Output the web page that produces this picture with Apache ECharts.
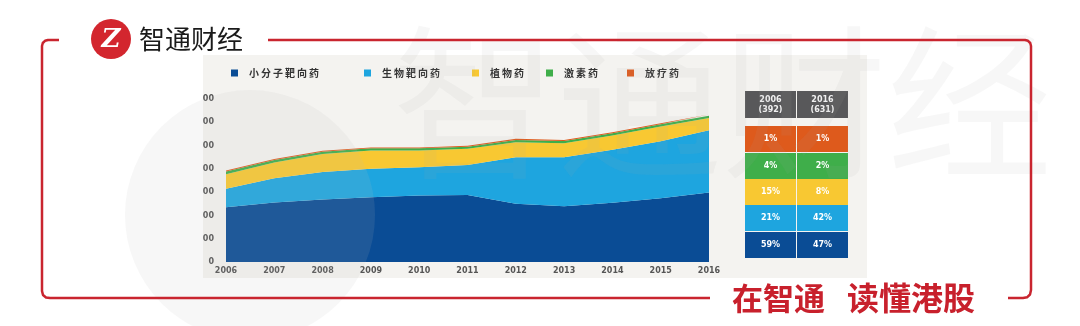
<!DOCTYPE html>
<html><head><meta charset="utf-8">
<script src="https://cdn.jsdelivr.net/npm/echarts@6/dist/echarts.min.js"></script>
<style>html,body{margin:0;padding:0;background:#fff}#c{width:1080px;height:326px}</style>
</head><body><div id="c"></div>
<script>
const years = ['2006','2007','2008','2009','2010','2011','2012','2013','2014','2015','2016'];
const seriesNames = ['小分子靶向药','生物靶向药','植物药','激素药','放疗药'];
const smallMolecule = [235, 255, 268, 278, 286, 288, 250, 239, 254, 274, 298];
const biologic      = [ 80, 105, 118, 122, 121, 129, 200, 211, 228, 245, 268];
const herbal        = [ 62,  67,  78,  79,  72,  69,  64,  60,  61,  63,  52];
const hormone       = [ 12,  11,  10,   9,   9,   9,  10,  10,  10,  10,  10];
const radio         = [  4,   4,   4,   4,   4,   4,   5,   4,   4,   4,   5];
const tableHeaders = ['2006\n(392)', '2016\n(631)'];
// rows top to bottom: 放疗药, 激素药, 植物药, 生物靶向药, 小分子靶向药
const share2006 = ['1%', '4%', '15%', '21%', '59%'];
const share2016 = ['1%', '2%', '8%', '42%', '47%'];
const brandTop = '智通财经';
const sloganParts = ['在智通', '读懂港股'];

const colors = ['#0a4c95', '#1ea5df', '#f8c832', '#3fae4a', '#de5a1c'];
const seriesData = [smallMolecule, biologic, herbal, hormone, radio];

const chart = echarts.init(document.getElementById('c'));

const legendX = [226, 359, 467, 541, 622];
const legends = seriesNames.map((n, i) => ({
  data: [n], left: legendX[i], top: 63, icon: 'rect', itemWidth: 7, itemHeight: 7,
  textStyle: { fontSize: 10, fontWeight: 'bold', color: '#333', padding: [0, 0, 0, 6],
               fontFamily: 'Noto Sans CJK SC' },
  formatter: s => s.split('').join('\u2009')
}));

// table graphics
const rowColors = [colors[4], colors[3], colors[2], colors[1], colors[0]];
const colX = [745, 797], colW = 51;
const rowY = [126, 153, 179, 205, 232], rowH = 26;
const tableEls = [];
tableHeaders.forEach((h, c) => {
  tableEls.push({ type: 'rect', shape: { x: colX[c], y: 91, width: colW, height: 27 },
    style: { fill: '#58585a' }, z: 5 });
  tableEls.push({ type: 'text', x: colX[c] + colW / 2, y: 104.5, z: 6,
    style: { text: h, fill: '#f0f0f0', fontSize: 8, fontWeight: 'bold', fontFamily: 'DejaVu Sans',
      align: 'center', verticalAlign: 'middle', lineHeight: 10 } });
});
[share2006, share2016].forEach((col, c) => {
  col.forEach((v, r) => {
    tableEls.push({ type: 'rect', shape: { x: colX[c], y: rowY[r], width: colW, height: rowH },
      style: { fill: rowColors[r] }, z: 5 });
    tableEls.push({ type: 'text', x: colX[c] + colW / 2, y: rowY[r] + rowH / 2, z: 6,
      style: { text: v, fill: '#ffffff', fontSize: 8, fontWeight: 'bold', fontFamily: 'DejaVu Sans',
        align: 'center', verticalAlign: 'middle' } });
  });
});

const red = '#c9252f';
const frameStyle = { stroke: red, lineWidth: 2.5, fill: null, lineJoin: 'round' };
const graphics = [
  { type: 'rect', shape: { x: 203, y: 55, width: 664, height: 223 }, style: { fill: '#f4f3f0' }, z: -10 },
  // watermark
  { type: 'circle', shape: { cx: 250, cy: 215, r: 125 }, style: { fill: 'rgba(190,190,190,0.12)' }, z: 50, silent: true },
  { type: 'text', x: 392, y: 20, z: 50, silent: true,
    style: { text: brandTop, fontSize: 165, fill: 'rgba(170,170,170,0.09)', fontFamily: 'Noto Sans CJK SC' } },
  // frame
  { type: 'polyline', z: 60, shape: { points: [[59,40],[48,40],[45,40.8],[42.8,43],[42,46],[42,291],[43,295],[46,297.5],[50,298],[710,298]] },
    style: frameStyle },
  { type: 'polyline', z: 60, shape: { points: [[268,40],[1025,40],[1028,40.8],[1030.2,43],[1031,46],[1031,290],[1030,294.5],[1027,297.3],[1023,298],[1008,298]] },
    style: frameStyle },
  // logo
  { type: 'circle', z: 60, shape: { cx: 111, cy: 39, r: 20 }, style: { fill: '#d3262e' } },
  { type: 'text', z: 61, x: 111, y: 40, style: { text: 'Z', fill: '#fff', fontSize: 26, fontWeight: 'bold',
      fontStyle: 'italic', fontFamily: 'DejaVu Serif', align: 'center', verticalAlign: 'middle' } },
  { type: 'text', z: 60, x: 139, y: 39, style: { text: brandTop, fill: '#1a1a1a', fontSize: 26,
      fontFamily: 'Noto Sans CJK SC', verticalAlign: 'middle' } },
  { type: 'text', z: 60, x: 732, y: 298, style: { text: sloganParts[0], fill: '#c8202c', fontSize: 31, fontWeight: 'bold',
      fontFamily: 'Noto Sans CJK SC', verticalAlign: 'middle' } },
  { type: 'text', z: 60, x: 847, y: 298, style: { text: sloganParts[1], fill: '#c8202c', fontSize: 32, fontWeight: 'bold',
      fontFamily: 'Noto Sans CJK SC', verticalAlign: 'middle' } }
].concat(tableEls);

chart.setOption({
  animation: false,
  backgroundColor: '#ffffff',
  color: colors,
  legend: legends,
  grid: { left: 226, right: 371, top: 99, bottom: 64 },
  xAxis: {
    type: 'category', data: years, boundaryGap: false,
    axisLine: { show: false }, axisTick: { show: false },
    axisLabel: { fontSize: 8, fontWeight: 'bold', color: '#555', margin: 5, fontFamily: 'DejaVu Sans' }
  },
  yAxis: {
    type: 'value', min: 0, max: 700, interval: 100,
    splitLine: { show: false }, axisLine: { show: false }, axisTick: { show: false },
    axisLabel: { fontSize: 8, fontWeight: 'bold', color: '#555', margin: 12, fontFamily: 'DejaVu Sans',
      formatter: v => String(v).slice(-2) }
  },
  series: seriesNames.map((n, i) => ({
    name: n, type: 'line', stack: 'total', data: seriesData[i], symbol: 'none',
    lineStyle: { width: 0 }, areaStyle: { color: colors[i], opacity: 1 }, itemStyle: { color: colors[i] }
  })),
  graphic: graphics
});
</script></body></html>
